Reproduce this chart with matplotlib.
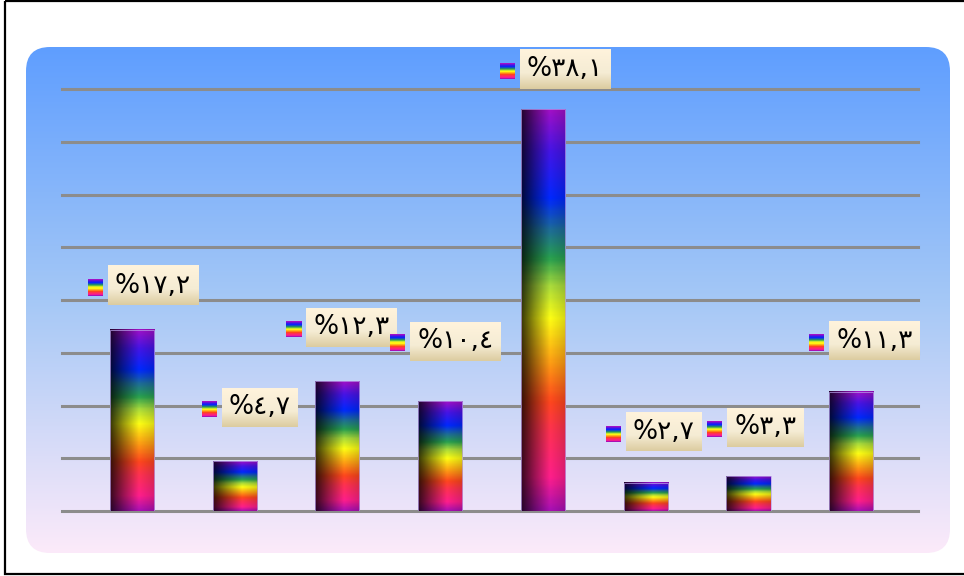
import numpy as np
import matplotlib
matplotlib.use("Agg")
import matplotlib.pyplot as plt
from matplotlib.patches import FancyBboxPatch, Rectangle
from matplotlib.colors import LinearSegmentedColormap

# data (percent)
values = [17.2, 4.7, 12.3, 10.4, 38.1, 2.7, 3.3, 11.3]
y_ticks = np.arange(0, 41, 5)

# label placement offsets from bar top, in pixels (dx, dy)
label_offsets = [(21, 44), (25, 54), (14, 54), (15, 60),
                 (22, 40), (18, 51), (17, 49), (23, 51)]

AR_DIGITS = str.maketrans("0123456789", "٠١٢٣٤٥٦٧٨٩")


def ar_label(v):
    """percent label with arabic-indic digits, drawn left to right as in the source"""
    return "%" + ("%.1f" % v).replace(".", ",").translate(AR_DIGITS)


plt.rcParams['font.family'] = ['DejaVu Sans', 'Noto Sans']

W, H = 964, 576
fig = plt.figure(figsize=(W / 100, H / 100), dpi=100)
fig.patch.set_facecolor('white')

# background layer in pixel coords
bg = fig.add_axes([0, 0, 1, 1])
bg.set_xlim(0, W)
bg.set_ylim(H, 0)
bg.axis('off')
bg.add_patch(Rectangle((5, 1), 1000, 573, fill=False, ec='black', lw=1.6))

bg_cmap = LinearSegmentedColormap.from_list(
    'bg', [(0, (95/255, 158/255, 255/255)),
           (0.5, (165/255, 200/255, 246/255)),
           (1, (252/255, 234/255, 250/255))])
grad = bg_cmap(np.linspace(0, 1, 256))[:, None, :3]
plate = FancyBboxPatch((26, 47), 924, 506, boxstyle='round,pad=0,rounding_size=24',
                       fc='none', ec='none', transform=bg.transData)
bg.add_patch(plate)
im = bg.imshow(grad, extent=(26, 950, 553, 47), aspect='auto', interpolation='bicubic')
im.set_clip_path(plate)
bg.set_xlim(0, W)
bg.set_ylim(H, 0)

# main chart
ax = fig.add_axes([62 / W, 1 - 511 / H, 856 / W, 422 / H])
ax.patch.set_alpha(0)
for s in ax.spines.values():
    s.set_visible(False)
ax.set_yticks(y_ticks)
ax.set_xticks([])
ax.tick_params(length=0, labelleft=False, labelbottom=False)
ax.yaxis.grid(True, color='#8c8c8c', lw=2.2)
ax.set_axisbelow(True)
for gl in ax.get_ygridlines():
    gl.set_clip_on(False)

rainbow = LinearSegmentedColormap.from_list('rb', [
    (0.00, '#aa10b4'), (0.08, '#ff1e8c'), (0.20, '#ff3250'), (0.27, '#ff461e'),
    (0.36, '#ff9614'), (0.48, '#ffff14'), (0.56, '#aadc3c'), (0.63, '#28a050'),
    (0.70, '#1e6e96'), (0.78, '#0028ff'), (0.90, '#4614e6'), (1.00, '#a010c8')])

x = np.arange(len(values))
bars = ax.bar(x, values, width=0.43, color='none', edgecolor='#b8a0ec', lw=0.5, zorder=3)

rows = rainbow(np.linspace(1, 0, 300))[:, :3]
u = np.linspace(0, 1, 60)
shade = np.interp(u, [0, 0.3, 0.65, 1], [0.22, 0.6, 1.0, 0.85])
bar_img = np.clip(rows[:, None, :] * shade[None, :, None], 0, 1)

for p in bars:
    x0, w, h = p.get_x(), p.get_width(), p.get_height()
    ax.imshow(bar_img, extent=(x0, x0 + w, 0, h), aspect='auto',
              interpolation='bilinear', zorder=2.5)

ax.set_xlim(-0.68, 7.65)
ax.set_ylim(0, 40)

# data labels with cream boxes and small legend keys
texts = []
for i, v in enumerate(values):
    t = ax.annotate(ar_label(v), xy=(x[i], v), xytext=label_offsets[i],
                    textcoords='offset pixels', ha='center', va='center',
                    fontsize=19, color='black', zorder=7, annotation_clip=False)
    texts.append(t)

fig.canvas.draw()
renderer = fig.canvas.get_renderer()
inv = ax.transData.inverted()

box_cmap = LinearSegmentedColormap.from_list(
    'box', [(0, '#fff3dc'), (0.6, '#f5ecd4'), (1, '#dccca0')])
box_img = box_cmap(np.linspace(0, 1, 64))[:, None, :3]
key_img = rainbow(np.linspace(1, 0, 16))[:, None, :3]

for t in texts:
    ext = t.get_window_extent(renderer)
    cx, cy = (ext.x0 + ext.x1) / 2, (ext.y0 + ext.y1) / 2
    bw = ext.width + 14
    bx0, bx1 = cx - bw / 2, cx + bw / 2
    by0, by1 = cy - 19.5, cy + 19.5
    (dx0, dy0), (dx1, dy1) = inv.transform([(bx0, by0), (bx1, by1)])
    b = ax.imshow(box_img, extent=(dx0, dx1, dy0, dy1), aspect='auto',
                  interpolation='bilinear', zorder=6)
    b.set_clip_on(False)
    (kx0, ky0), (kx1, ky1) = inv.transform([(bx0 - 20, cy - 10), (bx0 - 5, cy + 6)])
    k = ax.imshow(key_img, extent=(kx0, kx1, ky0, ky1), aspect='auto',
                  interpolation='nearest', zorder=6)
    k.set_clip_on(False)

ax.set_xlim(-0.68, 7.65)
ax.set_ylim(0, 40)

fig.savefig('out.png', dpi=100)
